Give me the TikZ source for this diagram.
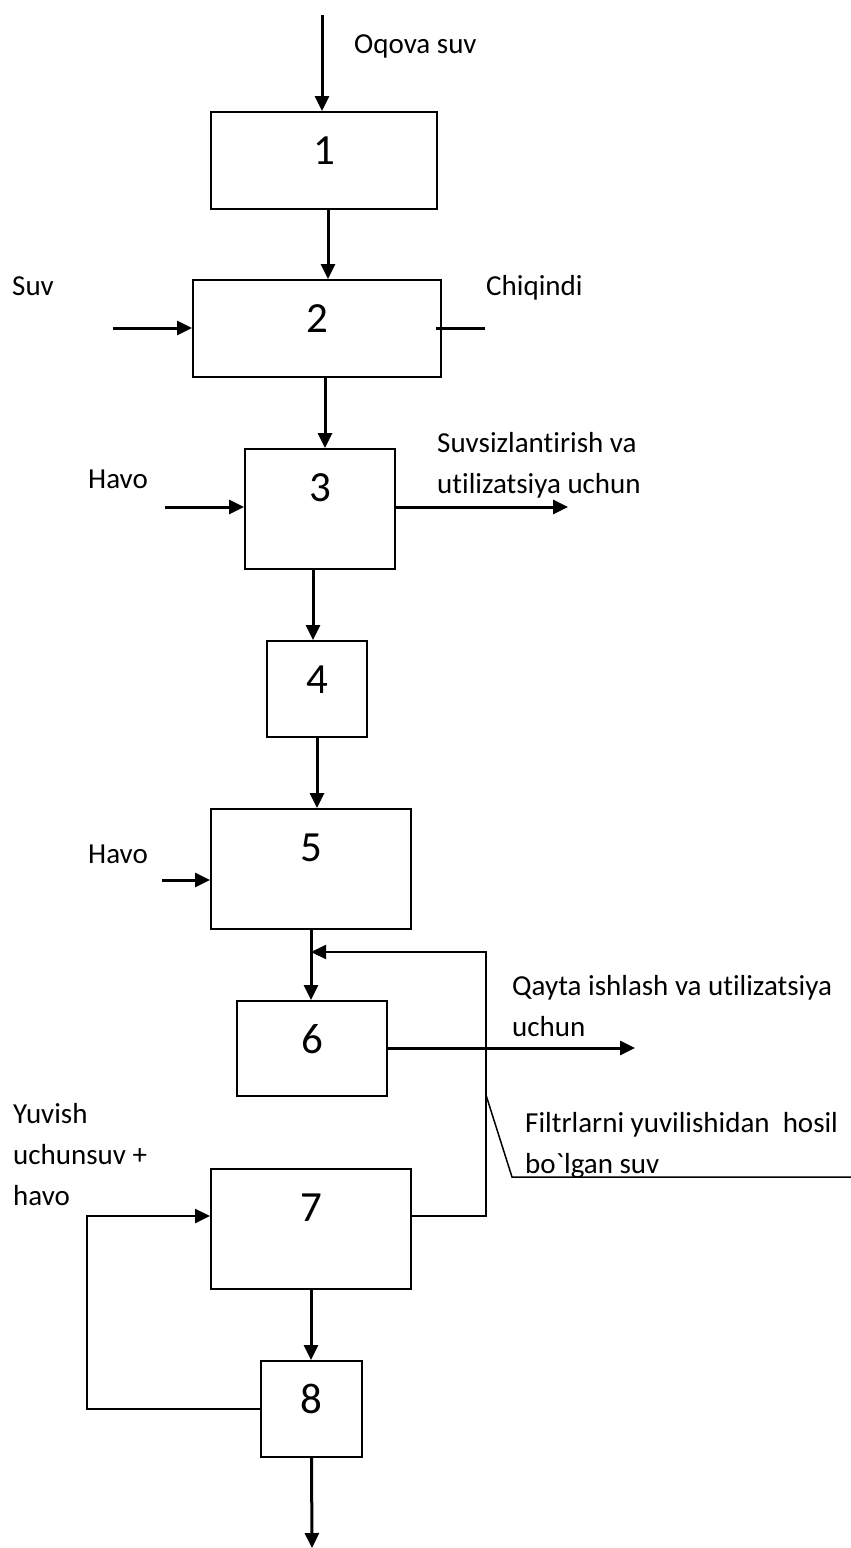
\documentclass[tikz,border=0pt]{standalone}
\usepackage{fontspec}
\setmainfont{Carlito}[Ligatures={TeXOff,NoCommon}]
\usetikzlibrary{arrows.meta}

\begin{document}
\begin{tikzpicture}[x=1pt,y=-1pt,line join=miter,>={Triangle[length=15pt,width=14pt]},
  blok/.style={draw=black,line width=2pt,anchor=north,inner xsep=0pt,inner ysep=0pt,
    text height=52pt,align=center,font=\fontsize{43}{43}\selectfont},
  oq/.style={->,line width=3pt},
  qalin/.style={line width=3pt},
  ingichka/.style={line width=2pt},
  yozuv/.style={anchor=base west,inner sep=0pt,align=left,font=\fontsize{29}{41}\selectfont}]
\useasboundingbox (0,0) rectangle (851,1548);
% bloklar
\node[blok,text width=226pt,text depth=45pt] (b1) at (324,111) {1};
\node[blok,text width=248pt,text depth=45pt] (b2) at (317,279) {2};
\node[blok,text width=150pt,text depth=68pt] (b3) at (320,448) {3};
\node[blok,text width=100pt,text depth=44pt] (b4) at (317,640) {4};
\node[blok,text width=200pt,text depth=68pt] (b5) at (311,808) {5};
\node[blok,text width=150pt,text depth=43pt] (b6) at (312,1000) {6};
\node[blok,text width=200pt,text depth=68pt] (b7) at (311,1168) {7};
\node[blok,text width=101pt,text depth=44pt] (b8) at (311.5,1360) {8};
% yozuvlar (ko'p qatorlilarda oxirgi qator bazasi)
\node[yozuv] (t1) at (354,53) {Oqova suv};
\node[yozuv] (t2) at (12,295) {Suv};
\node[yozuv] (t3) at (486,295) {Chiqindi};
\node[yozuv] (t4) at (88,488) {Havo};
\node[yozuv] (t5) at (437,493) {Suvsizlantirish va\\utilizatsiya uchun};
\node[yozuv] (t6) at (88,863) {Havo};
\node[yozuv] (t7) at (512,1036) {Qayta ishlash va utilizatsiya\\uchun};
\node[yozuv] (t8) at (525,1173) {Filtrlarni yuvilishidan\ \ hosil\\bo`lgan suv};
\node[yozuv] (t9) at (13,1205) {Yuvish\\uchunsuv +\\havo};
% uchlar
\coordinate (kirish) at (322,15);
\coordinate (suv) at (113,328);
\coordinate (chiq) at (485,328);
\coordinate (havo1) at (165,507);
\coordinate (suvsiz) at (568,507);
\coordinate (havo2) at (162,880);
\coordinate (qayta) at (635,1048);
\coordinate (qaytish) at (486,952);
\coordinate (yuv) at (87,1216);
\coordinate (c1) at (486,1095);
\coordinate (c2) at (512,1177);
\coordinate (c3) at (851,1177);
\coordinate (chiqish) at (312,1548);
% asosiy oqim
\draw[oq] (kirish) -- (kirish |- b1.north);
\draw[oq] ([xshift=4pt]b1.south) -- ([xshift=4pt]b1.south |- b2.north);
\draw[oq] ([xshift=8pt]b2.south) -- ([xshift=8pt]b2.south |- b3.north);
\draw[oq] ([xshift=-7pt]b3.south) -- ([xshift=-7pt]b3.south |- b4.north);
\draw[oq] (b4.south) -- (b4.south |- b5.north);
\draw[oq] (b5.south) -- (b5.south |- b6.north);
\draw[oq] (b7.south) -- (b7.south |- b8.north);
\draw[oq] (b8.south) -- (chiqish);
% kirish va chiqishlar
\draw[oq] (suv) -- (suv -| b2.west);
\draw[qalin] ([xshift=-6pt]b2.east |- chiq) -- (chiq);
\draw[oq] (havo1) -- (havo1 -| b3.west);
\draw[oq] ([xshift=-2pt]b3.east |- suvsiz) -- (suvsiz);
\draw[oq] (havo2) -- (havo2 -| b5.west);
\draw[oq] (b6.east |- qayta) -- (qayta);
% qaytish liniyalari
\draw[ingichka,->] (b7.east |- yuv) -| (qaytish) -- (qaytish -| b5.south);
\draw[line width=2.5pt,->] (b8.west) -| (yuv) -- (yuv -| b7.west);
\draw[line width=1.5pt] (c1) -- (c2) -- (c3);
\end{tikzpicture}
\end{document}
